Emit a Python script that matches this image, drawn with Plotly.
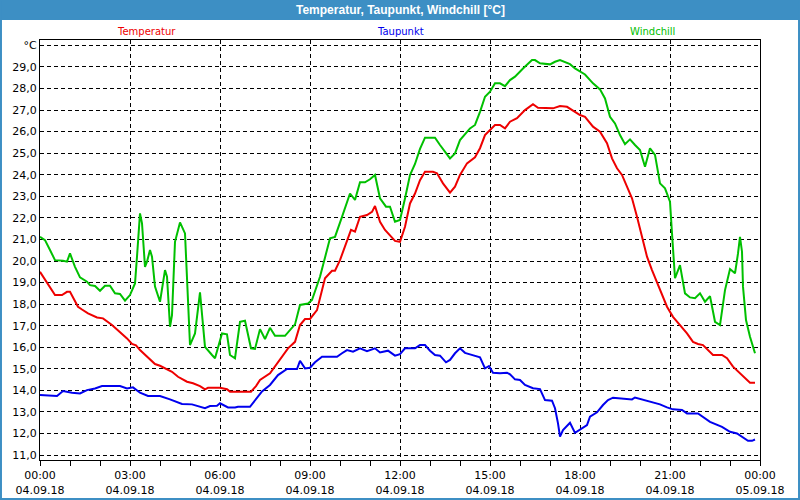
import pandas as pd
import plotly.graph_objects as go

# --- DATA (04.09.18) ---
DAY = "2018-09-04"

temp_times = [
    "00:00", "00:30", "00:44", "00:54", "01:00", "01:16", "01:24", "01:36", "01:54", "02:06",
    "02:24", "02:40", "02:54", "03:04", "03:12", "03:20", "03:34", "03:50", "04:00", "04:14",
    "04:24", "04:36", "04:54", "05:06", "05:20", "05:30", "05:36", "06:00", "06:14", "06:20",
    "07:02", "07:12", "07:20", "07:40", "08:00", "08:16", "08:30", "08:40", "08:50", "09:00",
    "09:14", "09:30", "09:44", "09:50", "10:00", "10:14", "10:22", "10:30", "10:40", "10:54",
    "11:04", "11:10", "11:20", "11:30", "11:50", "12:00", "12:10", "12:20", "12:30", "12:40",
    "12:50", "13:06", "13:14", "13:26", "13:40", "13:50", "14:00", "14:14", "14:30", "14:40",
    "14:50", "15:10", "15:20", "15:30", "15:40", "15:54", "16:10", "16:26", "16:36", "17:06",
    "17:20", "17:34", "17:50", "18:00", "18:10", "18:26", "18:40", "18:54", "19:04", "19:14",
    "19:24", "19:34", "19:44", "19:54", "20:04", "20:14", "20:24", "20:34", "20:44", "20:54",
    "21:06", "21:20", "21:34", "21:46", "21:56", "22:06", "22:16", "22:26", "22:44", "22:54",
    "23:06", "23:20", "23:34", "23:40", "23:50",
]
temp_values = [
    19.5, 18.42, 18.42, 18.57, 18.57, 17.88, 17.75, 17.57, 17.38, 17.34,
    17.03, 16.72, 16.41, 16.15, 16.09, 15.87, 15.56, 15.22, 15.14, 14.99,
    14.86, 14.63, 14.40, 14.33, 14.2, 14.05, 14.12, 14.12, 14.05, 13.94,
    13.94, 14.2, 14.48, 14.79, 15.41, 15.95, 16.25, 17.03, 17.31, 17.31,
    17.72, 19.2, 19.55, 19.55, 20.04, 20.97, 21.44, 21.36, 22.05, 22.13,
    22.28, 22.55, 21.82, 21.44, 20.93, 20.89, 21.59, 22.67, 23.13, 23.75,
    24.14, 24.14, 24.07, 23.6, 23.17, 23.45, 23.99, 24.53, 24.81, 25.23,
    25.84, 26.31, 26.31, 26.15, 26.46, 26.62, 27.0, 27.27, 27.11, 27.08,
    27.19, 27.15, 26.92, 26.77, 26.69, 26.23, 26.0, 25.46, 24.76, 24.3,
    23.99, 23.45, 22.91, 22.05, 21.05, 20.2, 19.58, 19.04, 18.5, 17.88,
    17.41, 17.03, 16.64, 16.25, 16.15, 16.1, 15.87, 15.64, 15.64, 15.49,
    15.1, 14.79, 14.48, 14.35, 14.35,
]

dew_times = [
    "00:00", "00:20", "00:34", "00:46", "01:04", "01:20", "01:34", "01:50", "02:04", "02:40",
    "02:54", "03:06", "03:20", "03:36", "04:00", "04:20", "04:44", "05:04", "05:30", "05:40",
    "05:54", "06:00", "06:16", "06:30", "06:36", "07:00", "07:10", "07:24", "07:40", "07:56",
    "08:14", "08:34", "08:40", "08:50", "09:00", "09:10", "09:24", "09:54", "10:04", "10:14",
    "10:26", "10:40", "10:54", "11:10", "11:20", "11:36", "11:50", "12:00", "12:10", "12:30",
    "12:40", "12:50", "13:00", "13:10", "13:20", "13:32", "13:40", "13:50", "14:00", "14:10",
    "14:20", "14:40", "14:50", "14:58", "15:06", "15:20", "15:34", "15:40", "15:50", "16:00",
    "16:10", "16:26", "16:40", "16:50", "17:04", "17:10", "17:16", "17:20", "17:26", "17:40",
    "17:50", "18:04", "18:14", "18:20", "18:34", "18:46", "18:56", "19:06", "19:20", "19:34",
    "19:44", "19:50", "20:00", "20:14", "20:26", "20:40", "20:54", "21:06", "21:24", "21:34",
    "21:56", "22:06", "22:20", "22:44", "23:00", "23:14", "23:36", "23:44", "23:50",
]
dew_values = [
    13.78, 13.74, 13.74, 13.97, 13.89, 13.86, 14.01, 14.09, 14.2, 14.2,
    14.09, 14.14, 13.89, 13.74, 13.74, 13.58, 13.37, 13.35, 13.17, 13.27,
    13.29, 13.4, 13.21, 13.21, 13.24, 13.24, 13.55, 13.95, 14.25, 14.71,
    14.99, 14.99, 15.37, 15.02, 15.05, 15.3, 15.56, 15.56, 15.72, 15.87,
    15.79, 15.95, 15.82, 15.95, 15.76, 15.84, 15.61, 15.68, 15.95, 15.95,
    16.1, 16.1, 15.84, 15.64, 15.61, 15.3, 15.41, 15.72, 15.95, 15.74,
    15.67, 15.53, 15.02, 15.13, 14.82, 14.79, 14.82, 14.74, 14.51, 14.48,
    14.25, 14.1, 14.06, 13.55, 13.52, 13.17, 12.47, 11.85, 12.16, 12.5,
    12.03, 12.24, 12.39, 12.78, 12.98, 13.32, 13.55, 13.66, 13.63, 13.58,
    13.58, 13.67, 13.6, 13.5, 13.43, 13.35, 13.21, 13.12, 13.09, 12.93,
    12.93, 12.78, 12.54, 12.31, 12.08, 12.0, 11.66, 11.66, 11.72,
]

chill_times = [
    "00:00", "00:10", "00:20", "00:30", "00:46", "00:54", "01:00", "01:10", "01:20", "01:34",
    "01:40", "01:50", "02:00", "02:10", "02:20", "02:30", "02:40", "02:50", "03:00", "03:10",
    "03:14", "03:20", "03:24", "03:30", "03:34", "03:40", "03:44", "03:50", "04:00", "04:10",
    "04:14", "04:20", "04:24", "04:30", "04:40", "04:50", "05:00", "05:10", "05:20", "05:26",
    "05:30", "05:44", "05:50", "06:04", "06:14", "06:20", "06:30", "06:40", "06:50", "07:02",
    "07:10", "07:20", "07:30", "07:40", "07:50", "08:10", "08:30", "08:40", "08:56", "09:04",
    "09:20", "09:40", "09:50", "10:04", "10:20", "10:30", "10:40", "10:50", "11:00", "11:10",
    "11:20", "11:32", "11:40", "11:50", "12:00", "12:10", "12:20", "12:30", "12:40", "12:50",
    "13:10", "13:20", "13:40", "13:50", "14:00", "14:20", "14:30", "14:40", "14:50", "15:00",
    "15:10", "15:20", "15:30", "15:40", "15:50", "16:06", "16:24", "16:30", "16:40", "17:00",
    "17:10", "17:20", "17:30", "17:40", "17:50", "18:00", "18:10", "18:26", "18:40", "18:50",
    "19:00", "19:10", "19:20", "19:30", "19:40", "19:50", "20:00", "20:10", "20:20", "20:30",
    "20:40", "20:50", "21:00", "21:04", "21:10", "21:20", "21:30", "21:40", "21:50", "22:00",
    "22:10", "22:20", "22:30", "22:40", "22:50", "23:00", "23:10", "23:16", "23:20", "23:24",
    "23:26", "23:32", "23:40", "23:50",
]
chill_values = [
    21.12, 20.97, 20.51, 20.04, 20.01, 19.97, 20.35, 19.73, 19.24, 19.04,
    18.88, 18.84, 18.62, 18.85, 18.85, 18.5, 18.47, 18.16, 18.42, 18.96,
    20.2, 22.21, 21.75, 19.73, 19.97, 20.51, 20.2, 18.81, 18.11, 19.58,
    19.27, 16.95, 17.49, 20.89, 21.79, 21.28, 16.1, 16.64, 18.55, 17.18,
    16.02, 15.64, 15.49, 16.64, 16.6, 15.64, 15.49, 17.18, 17.23, 15.95,
    15.92, 16.84, 16.38, 16.9, 16.53, 16.53, 17.06, 17.96, 18.03, 18.19,
    19.27, 21.05, 21.12, 22.05, 23.13, 22.83, 23.65, 23.65, 23.79, 23.99,
    22.91, 22.52, 22.52, 21.82, 21.9, 22.9, 23.99, 24.5, 25.2, 25.72,
    25.72, 25.38, 24.76, 24.99, 25.61, 26.15, 26.31, 26.92, 27.62, 27.85,
    28.24, 28.24, 28.11, 28.39, 28.55, 28.93, 29.32, 29.32, 29.17, 29.12,
    29.24, 29.32, 29.24, 29.13, 28.93, 28.8, 28.65, 28.24, 27.96, 27.54,
    26.69, 26.38, 25.84, 25.42, 25.64, 25.38, 25.15, 24.37, 25.23, 24.92,
    23.6, 23.37, 22.75, 21.28, 19.2, 19.81, 18.5, 18.31, 18.27, 18.5,
    18.11, 18.37, 17.18, 17.03, 18.65, 19.63, 19.43, 20.35, 21.12, 20.43,
    18.81, 17.26, 16.49, 15.72,
]

x_tick_times = ["2018-09-04 00:00", "2018-09-04 03:00", "2018-09-04 06:00", "2018-09-04 09:00",
                "2018-09-04 12:00", "2018-09-04 15:00", "2018-09-04 18:00", "2018-09-04 21:00",
                "2018-09-05 00:00"]
x_tick_labels = ["00:00<br>04.09.18", "03:00<br>04.09.18", "06:00<br>04.09.18",
                 "09:00<br>04.09.18", "12:00<br>04.09.18", "15:00<br>04.09.18",
                 "18:00<br>04.09.18", "21:00<br>04.09.18", "00:00<br>05.09.18"]
y_tick_vals = [11, 12, 13, 14, 15, 16, 17, 18, 19, 20, 21, 22, 23, 24, 25, 26, 27, 28, 29, 30]
y_tick_labels = ["11,0", "12,0", "13,0", "14,0", "15,0", "16,0", "17,0", "18,0", "19,0", "20,0",
                 "21,0", "22,0", "23,0", "24,0", "25,0", "26,0", "27,0", "28,0", "29,0", "°C"]

# --- STYLE ---
FONT = "DejaVu Sans"
TITLE_FONT = "Liberation Sans"
FRAME_BLUE = "#3d8fc4"
RED = "#ee0000"
BLUE = "#0000ee"
GREEN = "#00c000"


def to_dt(times):
    return pd.to_datetime([f"{DAY} {t}" for t in times])


fig = go.Figure()
for name, times, values, colour in [
    ("Temperatur", temp_times, temp_values, RED),
    ("Taupunkt", dew_times, dew_values, BLUE),
    ("Windchill", chill_times, chill_values, GREEN),
]:
    fig.add_trace(go.Scatter(x=to_dt(times), y=values, name=name, mode="lines",
                             line=dict(color=colour, width=2)))

grid_style = dict(showgrid=True, gridcolor="black", gridwidth=1, griddash="4px,3px",
                  showline=True, linecolor="black", linewidth=1, mirror=True,
                  zeroline=False, automargin=False)

fig.update_xaxes(
    **grid_style,
    range=["2018-09-04 00:00", "2018-09-05 00:00"],
    tickvals=pd.to_datetime(x_tick_times), ticktext=x_tick_labels,
    ticks="outside", ticklen=5, tickcolor="black",
    minor=dict(dtick=3600000, ticks="outside", ticklen=5, tickcolor="black", showgrid=False),
    tickfont=dict(family=FONT, size=11, color="black"),
)
fig.update_yaxes(
    **grid_style,
    range=[10.77, 30.25],
    tickvals=y_tick_vals, ticktext=y_tick_labels,
    ticks="", tickfont=dict(family=FONT, size=11, color="black"),
)

# title bar and window frame (paper coords reach into the margins)
fig.add_shape(type="rect", xref="paper", yref="paper", x0=-0.06, x1=1.06,
              y0=1.0476, y1=1.1, fillcolor=FRAME_BLUE, line_width=0, layer="below")
fig.add_shape(type="rect", xref="paper", yref="paper", x0=-0.0542, x1=1.0542,
              y0=-0.0929, y1=1.0952, fillcolor="rgba(0,0,0,0)",
              line=dict(color=FRAME_BLUE, width=2), layer="below")

fig.add_annotation(text="<b>Temperatur, Taupunkt, Windchill [°C]</b>", xref="paper", yref="paper",
                   x=0.5, y=1.0714, xanchor="center", yanchor="middle", showarrow=False,
                   font=dict(family=TITLE_FONT, size=12, color="white"))
for label, xpos, colour in [("Temperatur", 0.1486, RED), ("Taupunkt", 0.5, BLUE),
                            ("Windchill", 0.85, GREEN)]:
    fig.add_annotation(text=label, xref="paper", yref="paper", x=xpos, y=1.0214,
                       xanchor="center", yanchor="middle", showarrow=False,
                       font=dict(family=FONT, size=10, color=colour))

fig.update_layout(
    width=800, height=500,
    margin=dict(l=40, r=40, t=40, b=40, autoexpand=False),
    paper_bgcolor="white", plot_bgcolor="white",
    showlegend=False,
)

# the page body has a default 8px margin; drop it so the figure sits at the window corner
fig.write_html("out.html", config={"displayModeBar": False},
               post_script="document.body.style.margin = '0';")
